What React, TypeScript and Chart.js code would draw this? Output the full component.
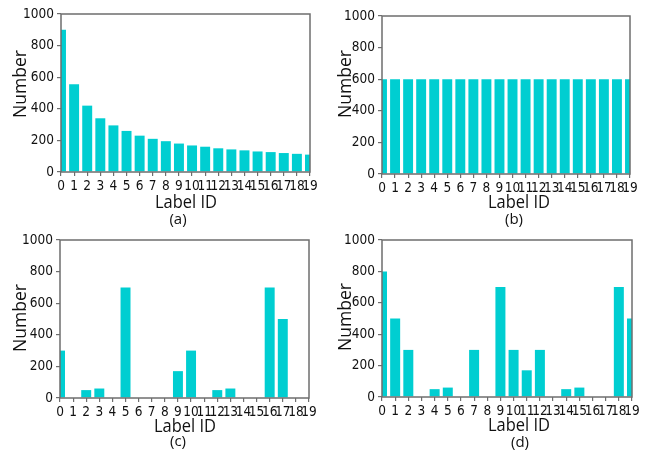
import React, { useEffect, useRef } from "react";
import { Chart, registerables } from "chart.js";

Chart.register(...registerables);

// ---- data ----
const labelIds = [0, 1, 2, 3, 4, 5, 6, 7, 8, 9, 10, 11, 12, 13, 14, 15, 16, 17, 18, 19];
const countsA = [900, 555, 420, 340, 295, 260, 230, 210, 195, 180, 168, 160, 150, 143, 137, 130, 126, 120, 115, 110];
const countsB = [600, 600, 600, 600, 600, 600, 600, 600, 600, 600, 600, 600, 600, 600, 600, 600, 600, 600, 600, 600];
const countsC = [300, 0, 50, 60, 0, 700, 0, 0, 0, 170, 300, 0, 50, 60, 0, 0, 700, 500, 0, 0];
const countsD = [800, 500, 300, 0, 50, 60, 0, 300, 0, 700, 300, 170, 300, 0, 50, 60, 0, 0, 700, 500];
const yMin = 0;
const yMax = 1000;
const yStep = 200;
const xTitle = "Label ID";
const yTitle = "Number";
const panelTags = ["(a)", "(b)", "(c)", "(d)"];

const BAR = "#00CED1";
const AXIS = "#6e6e6e";
const TEXT = "#111111";
const TICK_FONT = "'Liberation Sans Narrow', 'DejaVu Sans Condensed', 'Liberation Sans'";

type Panel = {
  values: number[];
  tag: string;
  x: number; y: number; w: number; h: number;
  left: number; top: number; right: number; bottom: number;
  numX: number; numY: number;
  labX: number; labBase: number;
  tagX: number; tagY: number;
};

const panels: Panel[] = [
  { values: countsA, tag: panelTags[0], x: 0, y: 0, w: 323, h: 235, left: 61, top: 14, right: 13, bottom: 63, numX: 21, numY: 84, labX: 186, labBase: 208, tagX: 178, tagY: 220 },
  { values: countsB, tag: panelTags[1], x: 323, y: 0, w: 323, h: 235, left: 59, top: 16, right: 16, bottom: 61, numX: 23, numY: 84, labX: 196, labBase: 208, tagX: 191, tagY: 220 },
  { values: countsC, tag: panelTags[2], x: 0, y: 225, w: 323, h: 226, left: 60, top: 15, right: 14, bottom: 53, numX: 21, numY: 93, labX: 185, labBase: 207, tagX: 178, tagY: 217 },
  { values: countsD, tag: panelTags[3], x: 323, y: 225, w: 323, h: 226, left: 59, top: 15, right: 14, bottom: 54, numX: 23, numY: 92, labX: 196, labBase: 206, tagX: 197, tagY: 218 },
];

function PanelChart({ p }: { p: Panel }) {
  const ref = useRef<HTMLCanvasElement>(null);
  useEffect(() => {
    if (!ref.current) return;
    const framePlugin = {
      id: "frame",
      afterDraw(chart: any) {
        const { ctx, chartArea } = chart;
        ctx.save();
        ctx.strokeStyle = AXIS;
        ctx.lineWidth = 1.5;
        ctx.strokeRect(chartArea.left, chartArea.top, chartArea.right - chartArea.left, chartArea.bottom - chartArea.top);
        ctx.restore();
      },
    };
    const textPlugin = {
      id: "texts",
      afterDraw(chart: any) {
        const { ctx } = chart;
        ctx.save();
        ctx.fillStyle = TEXT;
        // y title
        ctx.font = "19px 'Open Sans'";
        ctx.textAlign = "center";
        ctx.textBaseline = "middle";
        ctx.save();
        ctx.translate(p.numX, p.numY);
        ctx.rotate(-Math.PI / 2);
        const nw = ctx.measureText(yTitle).width;
        ctx.scale(68 / nw, 1);
        ctx.fillText(yTitle, 0, 0);
        ctx.restore();
        // x title
        ctx.font = "18px 'Open Sans'";
        ctx.textBaseline = "alphabetic";
        ctx.save();
        ctx.translate(p.labX, p.labBase);
        const lw = ctx.measureText(xTitle).width;
        ctx.scale(62 / lw, 1);
        ctx.fillText(xTitle, 0, 0);
        ctx.restore();
        // tag
        ctx.font = "15px 'Open Sans'";
        ctx.textBaseline = "middle";
        ctx.fillText(p.tag, p.tagX, p.tagY);
        ctx.restore();
      },
    };
    const chart = new Chart(ref.current, {
      type: "bar",
      data: {
        datasets: [
          {
            data: labelIds.map((id, i) => ({ x: id, y: p.values[i] })),
            backgroundColor: BAR,
            borderWidth: 0,
            barPercentage: 0.95,
            categoryPercentage: 0.8,
          },
        ],
      },
      options: {
        animation: false,
        responsive: false,
        maintainAspectRatio: false,
        layout: { padding: { left: 0, top: p.top, right: p.right, bottom: 0 } },
        plugins: { legend: { display: false }, tooltip: { enabled: false }, title: { display: false } },
        scales: {
          x: {
            type: "linear",
            min: labelIds[0],
            max: labelIds[labelIds.length - 1],
            offset: false,
            ticks: {
              stepSize: 1,
              autoSkip: false,
              maxRotation: 0,
              minRotation: 0,
              padding: 2,
              color: TEXT,
              font: { family: TICK_FONT, size: 13.5 },
              callback: (v: any) => String(v),
            },
            grid: { display: true, offset: false, drawOnChartArea: false, drawTicks: true, tickLength: 4, color: AXIS, lineWidth: 1.2 },
            border: { display: false },
            afterFit: (s: any) => { s.height = p.bottom; },
          } as any,
          y: {
            min: yMin,
            max: yMax,
            ticks: {
              stepSize: yStep,
              padding: 3,
              color: TEXT,
              font: { family: TICK_FONT, size: 13.5 },
              callback: (v: any) => String(v),
            },
            grid: { display: true, drawOnChartArea: false, drawTicks: true, tickLength: 4, color: AXIS, lineWidth: 1.2 },
            border: { display: false },
            afterFit: (s: any) => { s.width = p.left; },
          } as any,
        },
      },
      plugins: [framePlugin, textPlugin],
    });
    return () => chart.destroy();
  }, [p]);
  return (
    <canvas
      ref={ref}
      width={p.w}
      height={p.h}
      style={{ position: "absolute", left: p.x, top: p.y, width: p.w, height: p.h }}
    />
  );
}

export default function App() {
  return (
    <div style={{ position: "absolute", left: 0, top: 0, width: 646, height: 451, background: "#fff", overflow: "hidden" }}>
      {panels.map((p, i) => (
        <PanelChart key={i} p={p} />
      ))}
    </div>
  );
}
